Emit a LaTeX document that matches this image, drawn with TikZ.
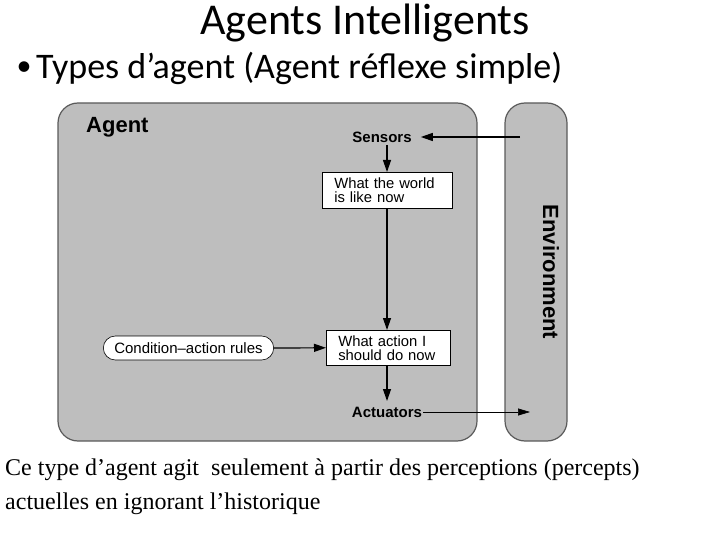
\documentclass[tikz,border=0pt]{standalone}
\usepackage{fontspec}
\setmainfont{Liberation Serif}
\setsansfont{Liberation Sans}
\newfontfamily\calib{Carlito}
\usetikzlibrary{arrows.meta,shapes.misc}
\definecolor{panel}{RGB}{190,190,190}
\definecolor{edge}{RGB}{90,90,90}
\tikzset{
  panelbox/.style={draw=edge,line width=1.2pt,fill=panel,rounded corners=20pt},
  infobox/.style={draw=black,line width=0.6pt,fill=white,align=left,font=\sffamily\fontsize{14.8}{15}\selectfont,inner xsep=12pt,inner ysep=2pt,anchor=north west},
  lbl/.style={font=\sffamily\bfseries\fontsize{15}{15}\selectfont,inner sep=1pt},
  flow/.style={-{Triangle[length=12pt,width=8pt]},line width=1.2pt},
}
\begin{document}
\begin{tikzpicture}[x=1pt,y=-1pt]
\useasboundingbox (0,0) rectangle (720,540);
% panels
\draw[panelbox] (58,103) rectangle (477,441);
\draw[panelbox] (505,103) rectangle (567,441);
% titles
\node[font=\calib\fontsize{44}{44}\selectfont] (title) at (365,23) {Agents Intelligents};
\node[font=\calib\fontsize{30}{30}\selectfont,inner sep=0pt] (dot) at (24,69) {•};
\node[font=\calib\fontsize{36}{36}\selectfont,anchor=west,inner sep=0pt] (bullet) at (36,68) {Types d’agent (Agent réflexe simple)};
% diagram texts
\node[font=\sffamily\bfseries\fontsize{22}{22}\selectfont,anchor=west,inner sep=0pt] (agent) at (86,127) {Agent};
\node[font=\sffamily\bfseries\fontsize{22}{22}\selectfont,rotate=-90] (env) at (551,272) {Environment};
\node[lbl] (sensors) at (382,137) {Sensors};
\node[lbl] (actuators) at (387,412) {Actuators};
\node[infobox,minimum width=130pt,minimum height=36pt,text width=106pt] (world) at (322,172) {What the world\\[-1pt]is like now};
\node[infobox,minimum width=124pt,minimum height=35pt,text width=100pt] (action) at (326,330) {What action I\\[-1pt]should do now};
\node[draw=black,line width=0.6pt,fill=white,rounded rectangle,minimum width=177pt,minimum height=24pt,font=\sffamily\fontsize{15}{15}\selectfont] (rules) at (188.5,348) {Condition–action rules};
\coordinate (envin) at (520,137);
\coordinate (envout) at (530,412);
\coordinate (s0) at (387,145);
\coordinate (a0) at (387,401);
% connectors
\draw[flow] (envin) -- ([xshift=8pt]sensors.east);
\draw[flow] (s0) -- (s0 |- world.north);
\draw[flow] (s0 |- world.south) -- (s0 |- action.north);
\draw[flow] (s0 |- action.south) -- (a0);
\draw[flow] (rules.east) -- (action.west);
\draw[-{Triangle[length=12pt,width=7pt]},line width=0.6pt] (actuators.east) -- (envout);
% bottom text
\node[font=\fontsize{24}{34}\selectfont,anchor=north west,align=left,inner sep=0pt] (caption) at (5,459) {Ce type d’agent agit\ \ seulement à partir des perceptions (percepts)\\actuelles en ignorant l’historique};
\end{tikzpicture}
\end{document}
